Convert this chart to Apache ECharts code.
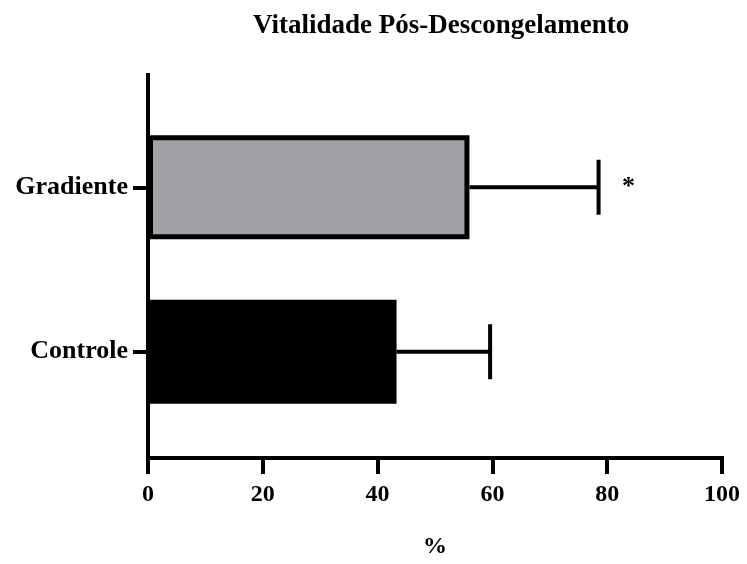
<!DOCTYPE html>
<html>
<head>
<meta charset="utf-8">
<script src="https://cdn.jsdelivr.net/npm/echarts@6/dist/echarts.min.js"></script>
<style>
html,body{margin:0;padding:0;background:#fff;}
#c{width:747px;height:564px;}
</style>
</head>
<body>
<div id="c"></div>
<script>
const titleText = 'Vitalidade Pós-Descongelamento';
const axisName = '%';
const categories = ['Controle', 'Gradiente'];
const means = [43.3, 56.0];
const upperErr = [59.6, 78.5];
const marks = ['', '*'];
const barColors = ['#000000', '#a2a1a6'];

const FONT = 'Liberation Serif, Times New Roman, serif';
const chart = echarts.init(document.getElementById('c'), null, {renderer: 'canvas'});

const barData = means.map((v, i) => ({value: v, itemStyle: {color: barColors[i]}}));
const errData = categories.map((c, i) => [i, means[i], upperErr[i], marks[i]]);

chart.setOption({
  animation: false,
  backgroundColor: '#ffffff',
  title: {
    text: titleText,
    left: 248, top: 8,
    textStyle: {fontFamily: FONT, fontWeight: 'bold', fontSize: 27, color: '#000'}
  },
  grid: [
    {left: 148, right: 25, top: 75, bottom: 103},
    {left: 148, right: 25, top: 105, bottom: 130}
  ],
  xAxis: [
    {
      gridIndex: 0, type: 'value', min: 0, max: 100, interval: 20,
      name: axisName, nameLocation: 'middle', nameGap: 77,
      nameTextStyle: {fontFamily: FONT, fontWeight: 'bold', fontSize: 24, color: '#000'},
      axisLine: {show: true, lineStyle: {color: '#000', width: 4, cap: 'square'}},
      axisTick: {show: true, length: 16, lineStyle: {color: '#000', width: 4}},
      axisLabel: {margin: 25, fontFamily: FONT, fontWeight: 'bold', fontSize: 24, color: '#000'},
      splitLine: {show: false}
    },
    {
      gridIndex: 1, type: 'value', min: 0, max: 100, show: false
    }
  ],
  yAxis: [
    {
      gridIndex: 0, type: 'value', min: 0, max: 1,
      axisLine: {show: true, lineStyle: {color: '#000', width: 4, cap: 'square'}},
      axisTick: {show: false}, axisLabel: {show: false}, splitLine: {show: false}
    },
    {
      gridIndex: 1, type: 'category', data: categories,
      axisLine: {show: false},
      axisTick: {show: true, alignWithLabel: true, length: 15, lineStyle: {color: '#000', width: 4}},
      axisLabel: {margin: 20, fontFamily: FONT, fontWeight: 'bold', fontSize: 26, color: '#000'},
      splitLine: {show: false}
    }
  ],
  series: [
    {
      type: 'custom', xAxisIndex: 1, yAxisIndex: 1, z: 1,
      data: errData,
      encode: {x: [1, 2], y: 0},
      renderItem: function (params, api) {
        const cat = api.value(0);
        const p0 = api.coord([api.value(1), cat]);
        const p1 = api.coord([api.value(2), cat]);
        const mark = errData[params.dataIndex][3];
        const children = [
          {type: 'line', shape: {x1: p0[0], y1: p0[1], x2: p1[0], y2: p1[1]}, style: {stroke: '#000', lineWidth: 4}},
          {type: 'line', shape: {x1: p1[0], y1: p1[1] - 27.5, x2: p1[0], y2: p1[1] + 27.5}, style: {stroke: '#000', lineWidth: 4}}
        ];
        if (mark) {
          children.push({type: 'text', x: p1[0] + 30, y: p1[1], style: {text: mark, fill: '#000', font: 'bold 26px ' + FONT, align: 'center', verticalAlign: 'middle'}});
        }
        return {type: 'group', children: children};
      }
    },
    {
      type: 'bar', xAxisIndex: 1, yAxisIndex: 1, z: 3,
      data: barData,
      barWidth: 104,
      itemStyle: {borderColor: '#000', borderWidth: 5}
    }
  ]
});
</script>
</body>
</html>
